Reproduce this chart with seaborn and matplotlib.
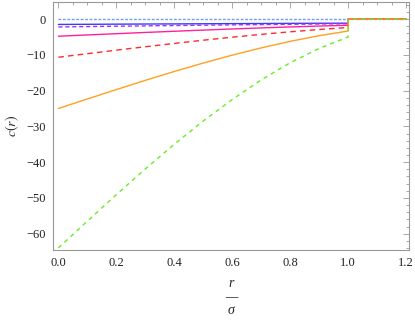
import matplotlib
matplotlib.use("Agg")
import matplotlib.pyplot as plt
import seaborn as sns
import numpy as np

# valeurs : c(r) pour r/sigma = 0 ... 1, puis saut a 0 jusqu'a 1.2
r = [0.0, 0.1, 0.2, 0.3, 0.4, 0.5, 0.6, 0.7, 0.8, 0.9, 1.0, 1.0, 1.2]

c_dotted = [0.0, 0.0, 0.0, 0.0, 0.0, 0.0, 0.0, 0.0, 0.0, 0.0, 0.0, 0.0, 0.0]
c_blue = [-1.49, -1.45, -1.41, -1.37, -1.34, -1.30, -1.26, -1.23, -1.19, -1.16, -1.14, 0.0, 0.0]
c_purple = [-2.19, -2.09, -1.99, -1.89, -1.79, -1.70, -1.61, -1.53, -1.45, -1.37, -1.29, 0.0, 0.0]
c_magenta = [-4.79, -4.43, -4.08, -3.73, -3.40, -3.07, -2.76, -2.47, -2.19, -1.94, -1.72, 0.0, 0.0]
c_red = [-10.66, -9.67, -8.69, -7.73, -6.80, -5.90, -5.06, -4.27, -3.55, -2.90, -2.35, 0.0, 0.0]
c_orange = [-25.0, -22.34, -19.71, -17.13, -14.65, -12.29, -10.08, -8.05, -6.22, -4.64, -3.33, 0.0, 0.0]
c_green = [-64.0, -56.5, -49.1, -41.9, -35.0, -28.5, -22.5, -17.0, -12.2, -8.2, -5.0, 0.0, 0.0]

series = [
    (c_dotted, "#6f9df0", (0, (2, 1.2))),
    (c_blue, "#3a3aff", "-"),
    (c_purple, "#a030ff", (0, (3, 2))),
    (c_magenta, "#ff20a0", "-"),
    (c_red, "#ff2a2a", (0, (4, 3))),
    (c_orange, "#ffa020", "-"),
    (c_green, "#66ee22", (0, (3, 3))),
]

sns.set_style("white")
plt.rcParams['font.family'] = ['Liberation Serif', 'DejaVu Serif']
plt.rcParams['mathtext.fontset'] = 'stix'

fig = plt.figure(figsize=(4.15, 3.24), dpi=100)
ax = fig.add_axes([0.128, 0.228, 0.8575, 0.766])

for vals, col, ls in series:
    sns.lineplot(x=r, y=vals, ax=ax, color=col, linestyle=ls, linewidth=1.0,
                 sort=False, estimator=None)

ax.set_xlim(-0.018, 1.21)
ax.set_ylim(-64.6, 4.8)

ax.set_xticks(np.arange(0, 1.21, 0.2))
ax.set_xticks(np.arange(0, 1.21, 0.05), minor=True)
ax.set_yticks(np.arange(-60, 1, 10))
ax.set_yticks(np.arange(-64, 5, 2), minor=True)
ax.set_xticklabels(["0.0", "0.2", "0.4", "0.6", "0.8", "1.0", "1.2"])
ax.set_yticklabels(["\u221260", "\u221250", "\u221240", "\u221230", "\u221220", "\u221210", "0"])

ax.tick_params(which="both", direction="in", top=True, right=True, color="#999999",
               labelsize=9, labelcolor="#222222", width=0.6)
ax.tick_params(which="major", length=4.5, pad=5)
ax.tick_params(which="minor", length=2.5)
for sp in ax.spines.values():
    sp.set_color("#999999")
    sp.set_linewidth(0.8)

ax.set_ylabel("$c(r)$", fontsize=10, labelpad=4)
ax.set_xlabel("r\n\u2014\n\u03c3", fontsize=10, style="italic", linespacing=1.05, labelpad=6)

fig.savefig("out.png", dpi=100)
